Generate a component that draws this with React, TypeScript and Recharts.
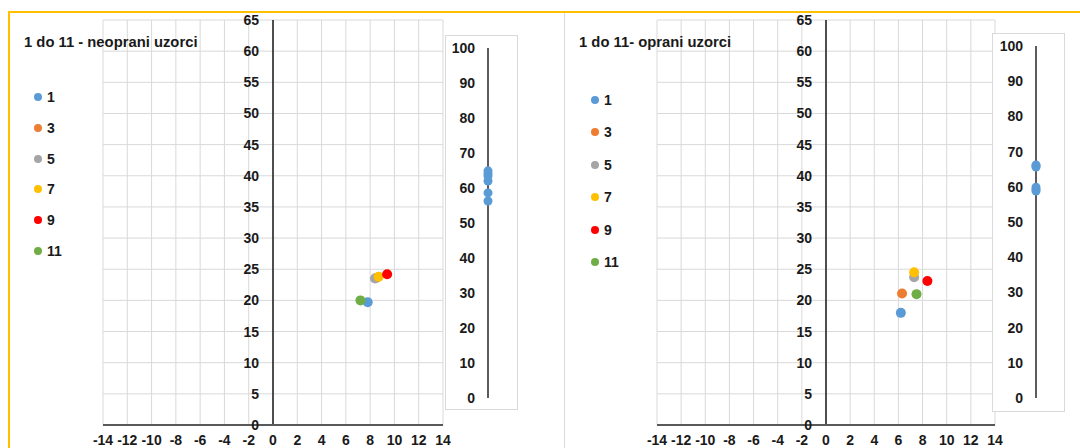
import React from 'react';
import {
  ScatterChart,
  Scatter,
  XAxis,
  YAxis,
  CartesianGrid,
  ReferenceLine,
  ReferenceDot,
  Legend,
} from 'recharts';

// ---- data ----
const seriesNames = ['1', '3', '5', '7', '9', '11'];
const seriesColors = ['#5b9bd5', '#ed7d31', '#a5a5a5', '#ffc000', '#ff0000', '#70ad47'];

// 1 do 11 - neoprani uzorci (a*, b*, L*)
const unwashedA = [7.8, 8.5, 8.4, 8.7, 9.4, 7.2];
const unwashedB = [19.7, 23.6, 23.5, 23.8, 24.2, 20.0];
const unwashedL = [62.0, 63.4, 58.6, 64.9, 56.3, 64.1];

// 1 do 11- oprani uzorci (a*, b*, L*)
const washedA = [6.2, 6.3, 7.3, 7.3, 8.4, 7.5];
const washedB = [18.0, 21.1, 23.7, 24.5, 23.1, 21.0];
const washedL = [66.2, 59.9, 65.6, 59.2, 65.9, 58.8];

const xTicks = [-14, -12, -10, -8, -6, -4, -2, 0, 2, 4, 6, 8, 10, 12, 14];
const yTicks = [0, 5, 10, 15, 20, 25, 30, 35, 40, 45, 50, 55, 60, 65];
const lTicks = [0, 10, 20, 30, 40, 50, 60, 70, 80, 90, 100];

const titles = ['1 do 11 - neoprani uzorci', '1 do 11- oprani uzorci'];

// ---- styles ----
const FONT = '"Liberation Sans", Arial, sans-serif';
const TEXT = '#1a1a1a';
const tickStyle = { fill: TEXT, fontSize: 14, fontWeight: 700, fontFamily: FONT };

const makeDot = (r: number) => (props: any) =>
  props.cx == null ? null : <circle cx={props.cx} cy={props.cy} r={r} fill={props.fill} />;

const makeLegend = (rowH: number) => (props: any) => {
  const items = [...(props.payload || [])].sort(
    (p: any, q: any) => seriesNames.indexOf(String(p.value)) - seriesNames.indexOf(String(q.value))
  );
  return (
    <div style={{ fontFamily: FONT }}>
      {items.map((p: any, i: number) => (
        <div key={i} style={{ height: rowH, display: 'flex', alignItems: 'center' }}>
          <svg width={10} height={10} style={{ display: 'block' }}>
            <circle cx={5} cy={5} r={4} fill={p.color} />
          </svg>
          <span style={{ marginLeft: 4, fontSize: 14, fontWeight: 700, color: TEXT, lineHeight: '16px' }}>
            {p.value}
          </span>
        </div>
      ))}
    </div>
  );
};

type MainProps = {
  a: number[];
  b: number[];
  width: number;
  margin: { top: number; right: number; bottom: number; left: number };
  legendPos: { left: number; top: number };
  legendRow: number;
};

function MainChart({ a, b, width, margin, legendPos, legendRow }: MainProps) {
  return (
    <ScatterChart width={width} height={448} margin={margin}>
      <CartesianGrid stroke="#d9d9d9" strokeWidth={1} />
      <XAxis
        type="number"
        dataKey="x"
        domain={[-14, 14]}
        ticks={xTicks}
        interval={0}
        tickLine={false}
        tickSize={0}
        tickMargin={10}
        height={23}
        axisLine={{ stroke: '#595959', strokeWidth: 2 }}
        tick={tickStyle}
      />
      <YAxis type="number" dataKey="y" domain={[0, 65]} ticks={yTicks} hide />
      <ReferenceLine x={0} stroke={TEXT} strokeWidth={1.5} />
      {yTicks.map((v) => (
        <ReferenceDot
          key={'yl' + v}
          x={0}
          y={v}
          r={0}
          fill="none"
          stroke="none"
          label={{ value: String(v), position: 'left', offset: 14, ...tickStyle }}
        />
      ))}
      <Legend
        layout="vertical"
        align="center"
        verticalAlign="middle"
        itemSorter={null as any}
        wrapperStyle={{ left: legendPos.left, top: legendPos.top, width: 'auto' }}
        content={makeLegend(legendRow)}
      />
      {seriesNames.map((name, i) => (
        <Scatter
          key={name}
          name={name}
          data={[{ x: a[i], y: b[i] }]}
          fill={seriesColors[i]}
          shape={makeDot(5)}
          isAnimationActive={false}
        />
      ))}
    </ScatterChart>
  );
}

type LProps = {
  values: number[];
  width: number;
  height: number;
  axisW: number;
  margin: { top: number; right: number; bottom: number; left: number };
};

function LChart({ values, width, height, axisW, margin }: LProps) {
  return (
    <ScatterChart width={width} height={height} margin={margin}>
      <XAxis type="number" dataKey="x" domain={[0, 1]} hide />
      <YAxis
        type="number"
        dataKey="y"
        domain={[0, 100]}
        ticks={lTicks}
        interval={0}
        width={axisW}
        tickLine={false}
        tickSize={0}
        tickMargin={13}
        axisLine={{ stroke: '#262626', strokeWidth: 1.5 }}
        tick={tickStyle}
      />
      <Scatter
        name="L"
        data={values.map((v) => ({ x: 0, y: v }))}
        fill="#5b9bd5"
        shape={makeDot(4.5)}
        isAnimationActive={false}
      />
    </ScatterChart>
  );
}

const abs = (left: number, top: number, extra: any = {}) => ({
  position: 'absolute' as const,
  left,
  top,
  ...extra,
});

export default function App() {
  return (
    <div
      style={{
        position: 'relative',
        width: 1080,
        height: 448,
        overflow: 'hidden',
        background: '#ffffff',
        fontFamily: FONT,
      }}
    >
      <style>{'body{margin:0}'}</style>
      {/* yellow frame */}
      <div style={abs(8, 11, { width: 1200, height: 600, border: '2px solid #ffc000', boxSizing: 'border-box' })} />
      {/* faint chart-area border of the second panel */}
      <div style={abs(564, 13, { width: 1, height: 440, background: '#d9d9d9' })} />

      {/* left panel */}
      <div style={abs(0, 0)}>
        <MainChart
          a={unwashedA}
          b={unwashedB}
          width={460}
          margin={{ top: 20, right: 17, bottom: 0, left: 103 }}
          legendPos={{ left: 33, top: 81.6 }}
          legendRow={30.8}
        />
      </div>
      <div style={abs(24, 34, { fontSize: 14.8, fontWeight: 700, color: TEXT, lineHeight: '17px', whiteSpace: 'nowrap' })}>
        {titles[0]}
      </div>
      <div
        style={abs(445, 35, {
          width: 73,
          height: 375,
          border: '1px solid #d9d9d9',
          boxSizing: 'border-box',
          background: '#fff',
        })}
      >
        <LChart
          values={unwashedL}
          width={71}
          height={373}
          axisW={42}
          margin={{ top: 12, right: 19, bottom: 11, left: 0 }}
        />
      </div>

      {/* right panel */}
      <div style={abs(540, 0)}>
        <MainChart
          a={washedA}
          b={washedB}
          width={470}
          margin={{ top: 20, right: 15, bottom: 0, left: 117 }}
          legendPos={{ left: 50, top: 83.8 }}
          legendRow={32.4}
        />
      </div>
      <div style={abs(579, 34, { fontSize: 14.8, fontWeight: 700, color: TEXT, lineHeight: '17px', whiteSpace: 'nowrap' })}>
        {titles[1]}
      </div>
      <div
        style={abs(992, 33, {
          width: 73,
          height: 379,
          border: '1px solid #d9d9d9',
          boxSizing: 'border-box',
          background: '#fff',
        })}
      >
        <LChart
          values={washedL}
          width={71}
          height={377}
          axisW={43}
          margin={{ top: 12, right: 18, bottom: 13, left: 0 }}
        />
      </div>
    </div>
  );
}
